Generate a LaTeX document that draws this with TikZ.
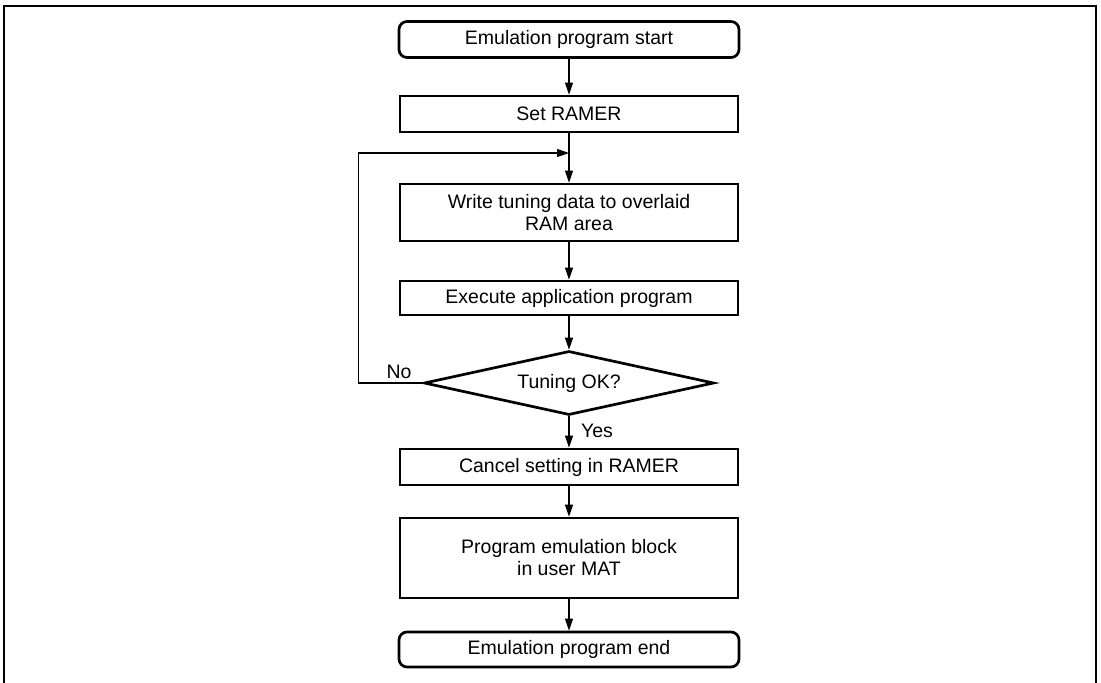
\documentclass[tikz,border=0pt]{standalone}
\usepackage{fontspec}
\setmainfont{Liberation Sans}
\usetikzlibrary{arrows.meta,positioning,calc,shapes.geometric}
\tikzset{
  >={Triangle[length=12pt,width=8pt]},
  every node/.style={font=\fontsize{19.5}{22}\selectfont},
  proc/.style={draw=black,line width=2.7pt,fill=white,align=center,inner sep=0pt,
               minimum width=338pt,minimum height=36pt},
  term/.style={proc,rounded corners=8pt,minimum width=340pt},
  decide/.style={diamond,aspect=4.5,draw=black,line width=2.7pt,fill=white,inner sep=0pt,
                 minimum width=290pt,minimum height=64pt},
  flow/.style={->,line width=1.2pt},
  lbl/.style={inner sep=0pt},
}
\begin{document}
\begin{tikzpicture}[x=1pt,y=1pt]
  \useasboundingbox (0,0) rectangle (1101,-683);
  % outer frame (open at the bottom)
  \draw[line width=2pt] (4,-683) -- (4,-6) -- (1096,-6) -- (1096,-683);

  % steps (centre column at x = 569)
  \node[term] (start) at (569,-39.5) {Emulation program start};
  \node[proc] (setramer) at (569,-114) {Set RAMER};
  \node[proc,minimum height=57pt] (write) at (569,-212.5) {Write tuning data to overlaid\\RAM area};
  \node[proc,minimum height=34pt] (exec) at (569,-298) {Execute application program};
  \node[decide] (tuning) at (569,-383) {Tuning OK?};
  \node[proc] (cancel) at (569,-467) {Cancel setting in RAMER};
  \node[proc,minimum height=80pt] (prog) at (569,-558) {Program emulation block\\in user MAT};
  \node[term,minimum height=35pt] (finish) at (569,-649.5) {Emulation program end};

  % loop return point
  \coordinate (loopin) at (569,-153);

  \draw[flow] (start.south) -- (setramer.north);
  \draw[flow] (setramer.south) -- (write.north);
  \draw[flow] (write.south) -- (exec.north);
  \draw[flow] (exec.south) -- (tuning.north);
  \draw[flow] (tuning.south) -- (cancel.north);
  \draw[flow] (cancel.south) -- (prog.north);
  \draw[flow] (prog.south) -- (finish.north);
  \draw[flow] (tuning.west) -- ++(-64,0) |- (loopin);

  % branch labels
  \node[lbl] (no) at (399,-372) {No};
  \node[lbl] (yes) at (597,-431) {Yes};
\end{tikzpicture}
\end{document}
